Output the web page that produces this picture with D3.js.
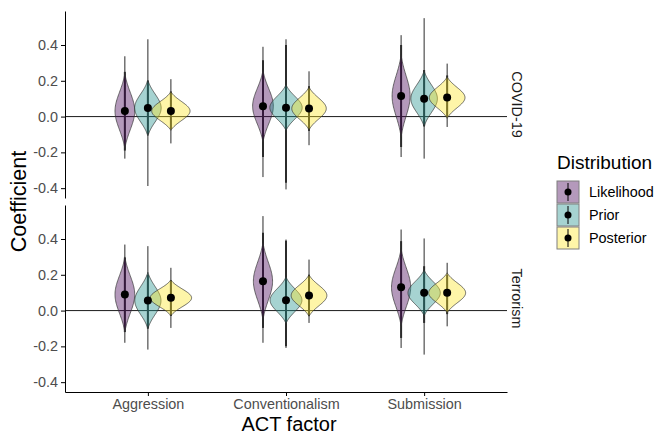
<!DOCTYPE html>
<meta charset="utf-8">
<html>
<head>
    <title>ACT factor coefficients</title>
    <script src="https://cdn.jsdelivr.net/npm/d3@7"></script>
</head>
<style>
    body { margin: 0; background: white; }
    svg { font-family: "Liberation Sans", Arial, sans-serif; }
    .tick text { fill: #4d4d4d; font-size: 14.4px; }
    .domain, .tick line { stroke: black; }
</style>
<body>
<svg width="654" height="434"></svg>

<script>
    // categories
    const factors = ["Aggression", "Conventionalism", "Submission"];
    const contexts = ["COVID-19", "Terrorism"];
    const distributions = ["Likelihood", "Prior", "Posterior"];
    const yTicks = [-0.4, -0.2, 0, 0.2, 0.4];

    // one row per context, inside: factor x distribution (L, P, Po)
    const means = [
        [0.031, 0.048, 0.031,  0.058, 0.050, 0.045,  0.115, 0.100, 0.106],
        [0.090, 0.056, 0.071,  0.164, 0.058, 0.084,  0.130, 0.099, 0.099]
    ];
    // spread of each violin (it is drawn to +-2 sd)
    const sds = [
        [0.105, 0.078, 0.054,  0.100, 0.064, 0.060,  0.115, 0.078, 0.058],
        [0.105, 0.079, 0.050,  0.108, 0.065, 0.058,  0.108, 0.064, 0.056]
    ];
    const outerLo = [
        [-0.235, -0.388, -0.150,  -0.338, -0.407, -0.160,  -0.226, -0.235, -0.058],
        [-0.180, -0.218, -0.097,  -0.180, -0.209, -0.069,  -0.209, -0.246, -0.088]
    ];
    const outerHi = [
        [0.337, 0.432, 0.209,  0.390, 0.432, 0.253,  0.455, 0.550, 0.296],
        [0.369, 0.360, 0.239,  0.528, 0.397, 0.285,  0.453, 0.403, 0.267]
    ];
    const innerLo = [
        [-0.190, -0.100, -0.070,  -0.226, -0.370, -0.080,  -0.170, -0.054, 0.000],
        [-0.120, -0.100, -0.030,  -0.097, -0.200, -0.030,  -0.153, -0.069, -0.020]
    ];
    const innerHi = [
        [0.250, 0.200, 0.140,  0.315, 0.400, 0.170,  0.400, 0.260, 0.230],
        [0.296, 0.200, 0.170,  0.435, 0.390, 0.200,  0.388, 0.248, 0.200]
    ];

    const fills = ["#440154", "#21908C", "#FDE725"];
    const fillAlpha = 0.4;

    const svg = d3.select("svg");
    const left = 65, right = 507, top0 = 11, panelH = 187, gap = 7;

    const x = d3.scalePoint().domain(factors).range([left, right]).padding(0.6);
    const step = x.step();
    const dodge = d3.scalePoint().domain(distributions).range([-step / 6, step / 6]);

    // build rows
    let rows = [];
    contexts.forEach((c, ci) => {
        factors.forEach((f, fi) => {
            distributions.forEach((d, di) => {
                const k = fi * 3 + di;
                rows.push({
                    context: c, ci: ci, factor: f, dist: d, di: di,
                    mean: means[ci][k], sd: sds[ci][k],
                    lo: outerLo[ci][k], hi: outerHi[ci][k],
                    ilo: innerLo[ci][k], ihi: innerHi[ci][k]
                });
            });
        });
    });

    // normal density, trimmed at 2 sd and dropped to zero there
    const dens = (v, m, s) => {
        const z = (v - m) / s;
        return Math.max(0, Math.exp(-0.5 * z * z) - Math.exp(-2)) / (s * Math.sqrt(2 * Math.PI));
    };
    const maxDens = d3.max(rows, r => dens(r.mean, r.mean, r.sd));
    const w = d3.scaleLinear().domain([0, maxDens]).range([0, step * 0.15]);

    const fmt = d => d.toFixed(1);

    contexts.forEach((c, ci) => {
        const pTop = top0 + ci * (panelH + gap);
        const y = d3.scaleLinear().domain([-0.455, 0.59]).range([pTop + panelH, pTop]);
        const g = svg.append("g");
        const data = rows.filter(r => r.ci === ci);

        // zero line
        g.append("line")
            .attr("x1", left).attr("x2", right)
            .attr("y1", y(0)).attr("y2", y(0))
            .attr("stroke", "black").attr("stroke-width", 0.9);

        // intervals
        g.selectAll(".outer").data(data).enter().append("line")
            .attr("x1", r => x(r.factor) + dodge(r.dist))
            .attr("x2", r => x(r.factor) + dodge(r.dist))
            .attr("y1", r => y(r.lo)).attr("y2", r => y(r.hi))
            .attr("stroke", "#2b2b2b").attr("stroke-width", 1);
        g.selectAll(".inner").data(data).enter().append("line")
            .attr("x1", r => x(r.factor) + dodge(r.dist))
            .attr("x2", r => x(r.factor) + dodge(r.dist))
            .attr("y1", r => y(r.ilo)).attr("y2", r => y(r.ihi))
            .attr("stroke", "#2b2b2b").attr("stroke-width", 2);

        // violins
        data.forEach(r => {
            const cx = x(r.factor) + dodge(r.dist);
            const vals = d3.range(0, 61).map(i => r.mean - 2 * r.sd + i * (4 * r.sd / 60));
            const area = d3.area()
                .y(v => y(v))
                .x0(v => cx - w(dens(v, r.mean, r.sd)))
                .x1(v => cx + w(dens(v, r.mean, r.sd)))
                .curve(d3.curveBasis);
            g.append("path")
                .attr("d", area(vals))
                .attr("fill", fills[r.di]).attr("fill-opacity", fillAlpha)
                .attr("stroke", "#333").attr("stroke-width", 0.7);
        });

        // points
        g.selectAll("circle").data(data).enter().append("circle")
            .attr("cx", r => x(r.factor) + dodge(r.dist))
            .attr("cy", r => y(r.mean))
            .attr("r", 4).attr("fill", "black");

        // y axis
        g.append("g")
            .attr("transform", `translate(${left},0)`)
            .call(d3.axisLeft(y).tickValues(yTicks).tickFormat(fmt).tickSize(4).tickSizeOuter(0).tickPadding(3));

        // x axis on bottom panel only
        if (ci === contexts.length - 1) {
            g.append("g")
                .attr("transform", `translate(0,${pTop + panelH})`)
                .call(d3.axisBottom(x).tickSize(4).tickSizeOuter(0).tickPadding(3));
        }

        // strip label
        g.append("text")
            .attr("transform", `translate(517,${pTop + panelH / 2}) rotate(90)`)
            .attr("text-anchor", "middle")
            .attr("dominant-baseline", "central")
            .attr("font-size", "14.4px")
            .attr("fill", "#1a1a1a")
            .text(c);
    });

    // axis titles
    svg.append("text")
        .attr("transform", `translate(26,${top0 + (2 * panelH + gap) / 2}) rotate(-90)`)
        .attr("text-anchor", "middle")
        .attr("font-size", "21.6px")
        .text("Coefficient");
    svg.append("text")
        .attr("x", (left + right) / 2 + 3).attr("y", 431)
        .attr("text-anchor", "middle")
        .attr("font-size", "20px")
        .text("ACT factor");

    // legend
    const lg = svg.append("g").attr("transform", "translate(557,0)");
    lg.append("text").attr("x", 0).attr("y", 169)
        .attr("font-size", "19px").text("Distribution");
    distributions.forEach((d, i) => {
        const ky = 181 + i * 23;
        lg.append("rect")
            .attr("x", 0).attr("y", ky).attr("width", 22).attr("height", 22)
            .attr("fill", fills[i]).attr("fill-opacity", fillAlpha)
            .attr("stroke", "#7f7f7f").attr("stroke-width", 1);
        lg.append("line")
            .attr("x1", 11).attr("x2", 11).attr("y1", ky + 2).attr("y2", ky + 20)
            .attr("stroke", "black").attr("stroke-width", 1);
        lg.append("circle").attr("cx", 11).attr("cy", ky + 11).attr("r", 3.5).attr("fill", "black");
        lg.append("text").attr("x", 32).attr("y", ky + 11)
            .attr("dominant-baseline", "central")
            .attr("font-size", "14.4px").text(d);
    });
</script>
</body>
</html>
